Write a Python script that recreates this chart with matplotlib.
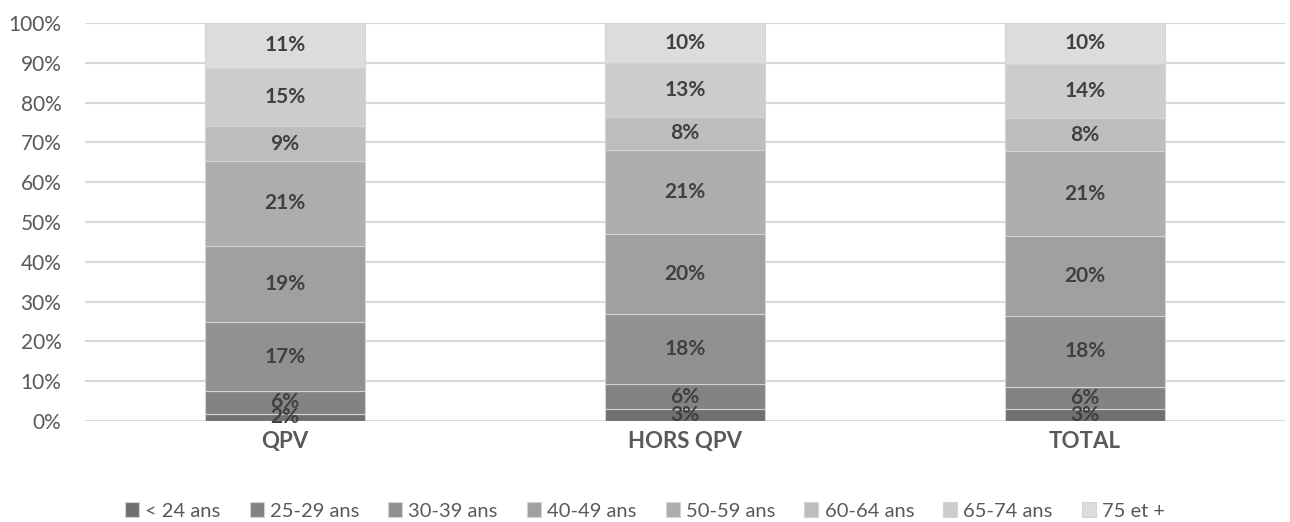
import numpy as np
import matplotlib.pyplot as plt
from matplotlib.ticker import PercentFormatter

plt.rcParams['font.family'] = ['Lato', 'DejaVu Sans']

# categories and age bands
categories = ['QPV', 'HORS QPV', 'TOTAL']
tranches = ['< 24 ans', '25-29 ans', '30-39 ans', '40-49 ans',
            '50-59 ans', '60-64 ans', '65-74 ans', '75 et +']

# share of each age band per category (%)
moins_24 = [1.8, 3.1, 2.9]
ans_25_29 = [5.7, 6.1, 5.7]
ans_30_39 = [17.4, 17.8, 17.9]
ans_40_49 = [19.1, 20.1, 20.0]
ans_50_59 = [21.4, 21.0, 21.3]
ans_60_64 = [8.6, 8.4, 8.2]
ans_65_74 = [14.8, 13.4, 13.8]
plus_75 = [11.2, 10.1, 10.2]

series = [moins_24, ans_25_29, ans_30_39, ans_40_49,
          ans_50_59, ans_60_64, ans_65_74, plus_75]
couleurs = ['#707070', '#838383', '#919191', '#a0a0a0',
            '#adadad', '#bdbdbd', '#cccccc', '#dcdcdc']

fig = plt.figure(figsize=(12.9, 5.22), dpi=100)
ax = fig.add_axes([0.066, 0.1935, 0.93, 0.7625])

x = np.arange(len(categories))
bas = np.zeros(len(categories))
for nom, vals, c in zip(tranches, series, couleurs):
    vals = np.array(vals)
    ax.bar(x, vals, 0.4, bottom=bas, color=c, edgecolor='#d4d4d4',
           linewidth=0.8, label=nom, zorder=3)
    for xi, b, v in zip(x, bas, vals):
        ax.text(xi, b + v / 2, f'{v:.0f}%', ha='center', va='center',
                fontsize=15, fontweight='bold', color='#404040', zorder=4)
    bas += vals

ax.set_xlim(-0.5, 2.5)
ax.set_ylim(0, 100)
ax.set_yticks(np.arange(0, 101, 10))
ax.yaxis.set_major_formatter(PercentFormatter(decimals=0))
ax.grid(axis='y', color='#d9d9d9', linewidth=1.5, zorder=0)
for s in ax.spines.values():
    s.set_visible(False)
ax.tick_params(axis='y', length=0, pad=17, labelsize=15, labelcolor='#595959')
ax.tick_params(axis='x', length=0, pad=7, labelsize=16, labelcolor='#595959')
ax.set_xticks(x)
ax.set_xticklabels(categories, fontweight='bold')

fig.legend(loc='lower center', ncol=8, frameon=False, fontsize=14.5,
           bbox_to_anchor=(0.5, -0.03), handlelength=0.7, handleheight=0.7,
           handletextpad=0.3, columnspacing=1.45, labelcolor='#595959')

fig.savefig('out.png', dpi=100)
